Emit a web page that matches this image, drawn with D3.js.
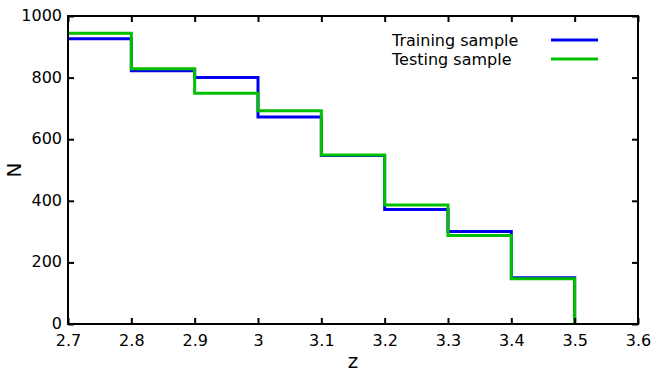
<!DOCTYPE html>
<html>
<head>
<meta charset="utf-8">
<script src="https://cdn.jsdelivr.net/npm/d3@7"></script>
<style>
  body { margin: 0; background: #fff; }
  svg text { font-family: "DejaVu Sans", sans-serif; fill: #000; }
</style>
</head>
<body>
<svg id="chart" width="660" height="372"></svg>
<script>
// bin edges and counts per bin
const binEdges = [2.7, 2.8, 2.9, 3.0, 3.1, 3.2, 3.3, 3.4, 3.5]
const trainingCounts = [926, 822, 800, 672, 547, 372, 300, 150]
const testingCounts = [944, 829, 749, 692, 549, 386, 287, 147]
const xTicks = [2.7, 2.8, 2.9, 3.0, 3.1, 3.2, 3.3, 3.4, 3.5, 3.6]
const yTicks = [0, 200, 400, 600, 800, 1000]

const series = [
  { name: 'Training sample', color: '#0000ee', counts: trainingCounts },
  { name: 'Testing sample', color: '#00c000', counts: testingCounts },
]

const svg = d3.select('#chart')
const gLeft = 68, gRight = 638, gTop = 16, gBottom = 324

const x = d3.scaleLinear().domain([2.7, 3.6]).range([gLeft, gRight])
const y = d3.scaleLinear().domain([0, 1000]).range([gBottom, gTop])

// step lines
const line = d3.line()
  .x(d => x(d[0]))
  .y(d => y(d[1]))
  .curve(d3.curveStepAfter)

series.forEach(s => {
  let pts = s.counts.map((c, i) => [binEdges[i], c])
  pts.push([binEdges[binEdges.length - 1], 0])
  svg.append('path')
    .attr('d', line(pts))
    .attr('fill', 'none')
    .attr('stroke', s.color)
    .attr('stroke-width', 3)
})

// axes, ticks pointing inward on all four sides
const fmt = d => (d === 3 ? '3' : d3.format('.1f')(d))
svg.append('g').attr('transform', `translate(0,${gBottom})`)
  .call(d3.axisBottom(x).tickValues(xTicks).tickSizeInner(-6).tickSizeOuter(0).tickPadding(11).tickFormat(fmt))
svg.append('g').attr('transform', `translate(0,${gTop})`)
  .call(d3.axisTop(x).tickValues(xTicks).tickSizeInner(-6).tickSizeOuter(0).tickFormat(''))
let yAxisG = svg.append('g').attr('transform', `translate(${gLeft},0)`)
  .call(d3.axisLeft(y).tickValues(yTicks).tickSizeInner(-6).tickSizeOuter(0).tickPadding(6).tickFormat(d3.format('d')))
yAxisG.selectAll('.tick text').attr('dy', '0.28em')
svg.append('g').attr('transform', `translate(${gRight},0)`)
  .call(d3.axisRight(y).tickValues(yTicks).tickSizeInner(-6).tickSizeOuter(0).tickFormat(''))

svg.selectAll('.domain').remove()
svg.selectAll('.tick line').attr('stroke', '#000').attr('stroke-width', 2)
svg.selectAll('.tick text').style('font-size', '16px').attr('fill', '#000')

svg.append('rect')
  .attr('x', gLeft).attr('y', gTop)
  .attr('width', gRight - gLeft).attr('height', gBottom - gTop)
  .attr('fill', 'none').attr('stroke', '#000').attr('stroke-width', 2)

// axis titles
svg.append('text')
  .attr('x', (gLeft + gRight) / 2).attr('y', 368)
  .attr('text-anchor', 'middle')
  .style('font-size', '20px')
  .text('z')
svg.append('text')
  .attr('transform', `translate(21,${(gTop + gBottom) / 2}) rotate(-90)`)
  .attr('text-anchor', 'middle')
  .style('font-size', '20px')
  .text('N')

// legend
series.forEach((s, i) => {
  let ly = 40 + i * 19
  svg.append('text')
    .attr('x', 392).attr('y', ly + 6)
    .style('font-size', '16px')
    .text(s.name)
  svg.append('line')
    .attr('x1', 551).attr('x2', 598)
    .attr('y1', ly).attr('y2', ly)
    .attr('stroke', s.color).attr('stroke-width', 3)
})
</script>
</body>
</html>
